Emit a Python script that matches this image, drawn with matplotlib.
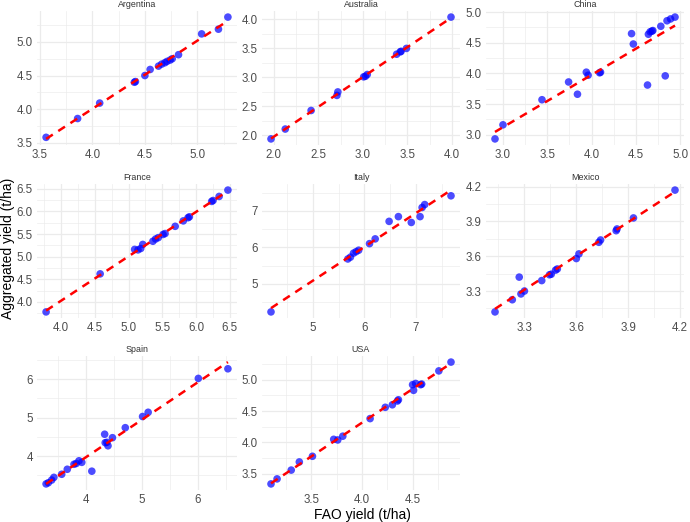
import numpy as np
import matplotlib
matplotlib.use("Agg")
import matplotlib.pyplot as plt
from matplotlib.ticker import FixedLocator

plt.rcParams['font.family'] = ['Liberation Sans', 'DejaVu Sans']

countries = ["Argentina", "Australia", "China", "France", "Italy", "Mexico", "Spain", "USA"]

argentina_fao = [3.56, 3.86, 4.07, 4.40, 4.41, 4.50, 4.55, 4.63, 4.66, 4.69, 4.71, 4.74, 4.76, 4.82, 5.04, 5.20, 5.29]
argentina_agg = [3.58, 3.86, 4.09, 4.40, 4.41, 4.50, 4.59, 4.64, 4.67, 4.69, 4.71, 4.73, 4.75, 4.81, 5.12, 5.19, 5.37]

australia_fao = [1.97, 2.13, 2.42, 2.71, 2.72, 3.01, 3.03, 3.05, 3.38, 3.42, 3.43, 3.49, 3.99]
australia_agg = [1.94, 2.11, 2.43, 2.69, 2.75, 3.01, 3.02, 3.05, 3.40, 3.44, 3.45, 3.50, 4.04]

china_fao = [2.91, 3.00, 3.44, 3.74, 3.84, 3.94, 3.96, 4.09, 4.10, 4.45, 4.47, 4.63, 4.64, 4.66, 4.68, 4.69, 4.78, 4.83, 4.85, 4.89, 4.94]
china_agg = [2.93, 3.16, 3.57, 3.86, 3.66, 4.02, 3.97, 4.01, 4.02, 4.65, 4.48, 3.81, 4.64, 4.68, 4.69, 4.70, 4.77, 3.96, 4.86, 4.89, 4.92]

france_fao = [3.78, 4.58, 5.09, 5.14, 5.18, 5.21, 5.36, 5.40, 5.44, 5.51, 5.54, 5.69, 5.81, 5.88, 5.90, 6.23, 6.25, 6.34, 6.47]
france_agg = [3.78, 4.62, 5.16, 5.15, 5.18, 5.27, 5.34, 5.39, 5.42, 5.49, 5.51, 5.67, 5.79, 5.86, 5.88, 6.22, 6.24, 6.33, 6.47]

italy_fao = [4.19, 5.68, 5.73, 5.79, 5.84, 5.89, 6.10, 6.21, 6.48, 6.66, 6.91, 7.08, 7.12, 7.17, 7.68]
italy_agg = [4.23, 5.68, 5.73, 5.84, 5.88, 5.92, 6.10, 6.23, 6.71, 6.84, 6.68, 6.84, 7.09, 7.17, 7.41]

mexico_fao = [3.13, 3.23, 3.27, 3.28, 3.30, 3.40, 3.445, 3.455, 3.48, 3.49, 3.60, 3.615, 3.73, 3.74, 3.83, 3.835, 3.93, 4.17]
mexico_agg = [3.12, 3.225, 3.42, 3.275, 3.30, 3.39, 3.44, 3.445, 3.48, 3.49, 3.58, 3.62, 3.72, 3.74, 3.82, 3.835, 3.93, 4.17]

spain_fao = [3.28, 3.32, 3.38, 3.42, 3.56, 3.66, 3.78, 3.82, 3.87, 3.92, 4.10, 4.33, 4.34, 4.37, 4.39, 4.47, 4.70, 5.01, 5.11, 6.01, 6.54]
spain_agg = [3.28, 3.31, 3.38, 3.45, 3.53, 3.66, 3.79, 3.81, 3.88, 3.84, 3.61, 4.57, 4.35, 4.36, 4.27, 4.48, 4.74, 5.03, 5.14, 6.02, 6.27]

usa_fao = [3.10, 3.16, 3.30, 3.38, 3.51, 3.72, 3.76, 3.81, 4.08, 4.23, 4.30, 4.35, 4.36, 4.50, 4.51, 4.53, 4.58, 4.59, 4.76, 4.88]
usa_agg = [3.34, 3.42, 3.56, 3.69, 3.78, 4.05, 4.04, 4.10, 4.38, 4.56, 4.60, 4.66, 4.68, 4.92, 4.83, 4.94, 4.92, 4.93, 5.14, 5.28]

fao = [argentina_fao, australia_fao, china_fao, france_fao, italy_fao, mexico_fao, spain_fao, usa_fao]
agg = [argentina_agg, australia_agg, china_agg, france_agg, italy_agg, mexico_agg, spain_agg, usa_agg]

x_ticks = [
    ["3.5", "4.0", "4.5", "5.0"],
    ["2.0", "2.5", "3.0", "3.5", "4.0"],
    ["3.0", "3.5", "4.0", "4.5", "5.0"],
    ["4.0", "4.5", "5.0", "5.5", "6.0", "6.5"],
    ["5", "6", "7"],
    ["3.3", "3.6", "3.9", "4.2"],
    ["4", "5", "6"],
    ["3.5", "4.0", "4.5"],
]
y_ticks = [
    ["3.5", "4.0", "4.5", "5.0"],
    ["2.0", "2.5", "3.0", "3.5", "4.0"],
    ["3.0", "3.5", "4.0", "4.5", "5.0"],
    ["4.0", "4.5", "5.0", "5.5", "6.0", "6.5"],
    ["5", "6", "7"],
    ["3.3", "3.6", "3.9", "4.2"],
    ["4", "5", "6"],
    ["3.5", "4.0", "4.5", "5.0"],
]

W, H = 690, 522
fig = plt.figure(figsize=(W / 100, H / 100), dpi=100)

col_px = [(37, 237), (262, 460), (486, 684)]
row_px = [(11, 145), (184, 318), (356, 490)]

grid_col = "#EBEBEB"
text_col = "#4D4D4D"


def minor_from(major, lo, hi):
    major = np.asarray(major)
    step = major[1] - major[0]
    cand = np.concatenate([major - step / 2, [major[-1] + step / 2]])
    return [c for c in cand if lo <= c <= hi]


for i, name in enumerate(countries):
    r, c = divmod(i, 3)
    x0, x1 = col_px[c]
    y0, y1 = row_px[r]
    ax = fig.add_axes([x0 / W, 1 - y1 / H, (x1 - x0) / W, (y1 - y0) / H])
    x = np.array(fao[i])
    y = np.array(agg[i])
    slope, icpt = np.polyfit(x, y, 1)
    xl = np.linspace(x.min(), x.max(), 80)
    yl = slope * xl + icpt
    ax.scatter(x, y, s=30, color="blue", alpha=0.7, edgecolors="none", zorder=3)
    ax.plot(xl, yl, color="red", lw=1.8, ls=(0, (3.2, 2.6)), zorder=4)

    xa = np.concatenate([x, xl])
    ya = np.concatenate([y, yl])
    xr = xa.max() - xa.min()
    yr = ya.max() - ya.min()
    xlo, xhi = xa.min() - 0.05 * xr, xa.max() + 0.05 * xr
    ylo, yhi = ya.min() - 0.05 * yr, ya.max() + 0.05 * yr
    ax.set_xlim(xlo, xhi)
    ax.set_ylim(ylo, yhi)

    xt = [float(t) for t in x_ticks[i]]
    yt = [float(t) for t in y_ticks[i]]
    ax.xaxis.set_major_locator(FixedLocator(xt))
    ax.yaxis.set_major_locator(FixedLocator(yt))
    ax.set_xticklabels(x_ticks[i])
    ax.set_yticklabels(y_ticks[i])
    ax.xaxis.set_minor_locator(FixedLocator(minor_from(xt, xlo, xhi)))
    ax.yaxis.set_minor_locator(FixedLocator(minor_from(yt, ylo, yhi)))

    ax.grid(True, which="major", color=grid_col, lw=0.9, zorder=0)
    ax.grid(True, which="minor", color=grid_col, lw=0.45, zorder=0)
    ax.set_axisbelow(True)
    for s in ax.spines.values():
        s.set_visible(False)
    ax.tick_params(which="both", length=0, labelsize=8.3, labelcolor=text_col, pad=3)
    ax.set_facecolor("white")
    ax.set_title(name, fontsize=6.4, color="#333333", pad=3)

fig.text(362 / W, 1 - 515 / H, "FAO yield (t/ha)", ha="center", va="center", fontsize=10, color="black")
fig.text(8 / W, 1 - 248 / H, "Aggregated yield (t/ha)", ha="center", va="center", rotation=90, fontsize=10, color="black")

fig.savefig("out.png", dpi=100, facecolor="white")
